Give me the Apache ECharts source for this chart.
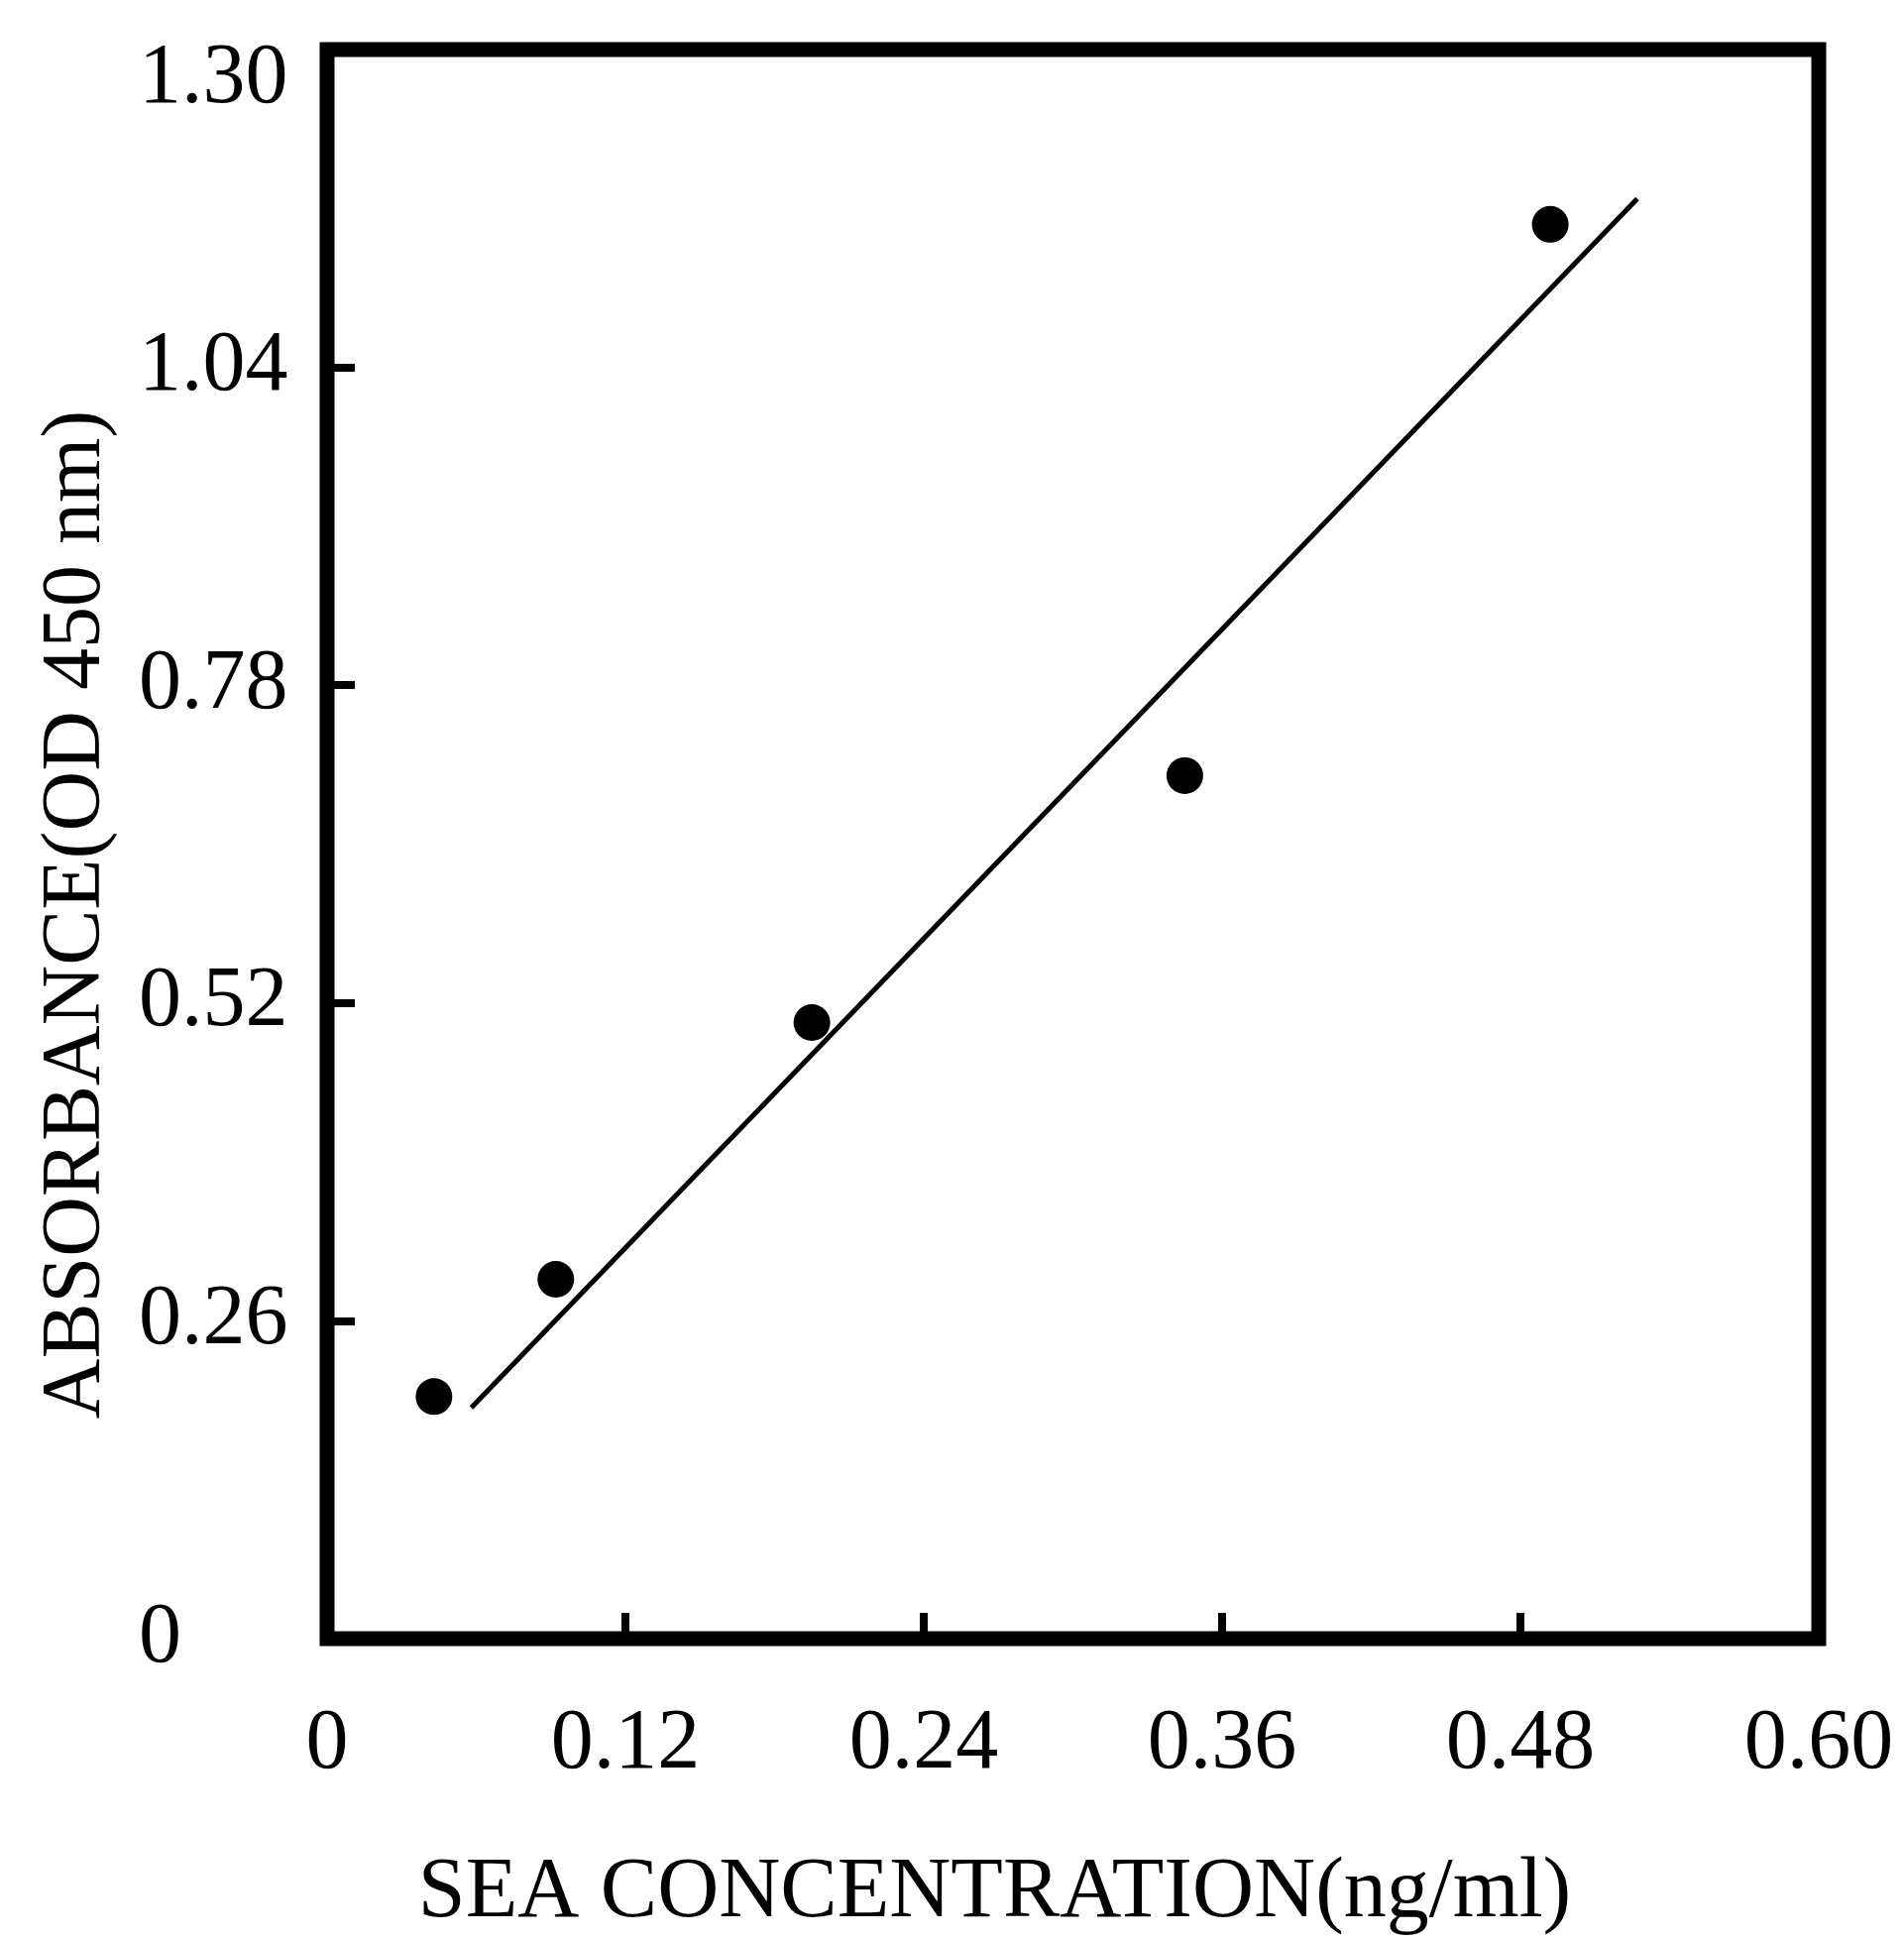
<!DOCTYPE html>
<html>
<head>
<meta charset="utf-8">
<script src="https://cdn.jsdelivr.net/npm/echarts@6/dist/echarts.min.js"></script>
<style>
html,body{margin:0;padding:0;background:#fff;}
#chart{width:1921px;height:1958px;}
</style>
</head>
<body>
<div id="chart"></div>
<script>
// Measured points: SEA concentration (ng/ml) vs absorbance (OD 450 nm)
const concentration = [0.043, 0.092, 0.195, 0.345, 0.492];
const absorbance = [0.198, 0.294, 0.504, 0.706, 1.157];
// Fitted straight line end points
const fitX = [0.058, 0.527];
const fitY = [0.189, 1.178];
// Tick labels
const xTickLabels = ['0', '0.12', '0.24', '0.36', '0.48', '0.60'];
const yTickLabels = ['0', '0.26', '0.52', '0.78', '1.04', '1.30'];
const xTitle = 'SEA CONCENTRATION(ng/ml)';
const yTitle = 'ABSORBANCE(OD 450 nm)';

const FONT = '"Liberation Serif", "Times New Roman", serif';
const chart = echarts.init(document.getElementById('chart'), null, {renderer: 'canvas'});

chart.setOption({
  backgroundColor: '#ffffff',
  animation: false,
  grid: {
    left: 330, right: 86, top: 50, bottom: 301,
    show: true, borderColor: '#000', borderWidth: 15, backgroundColor: 'transparent'
  },
  xAxis: {
    type: 'value', min: 0, max: 0.6, interval: 0.12,
    name: xTitle, nameLocation: 'middle', nameGap: 214,
    nameTextStyle: {fontFamily: FONT, fontSize: 86, color: '#000', padding: [0, 158, 0, 0]},
    axisLine: {show: false},
    axisTick: {show: true, inside: true, length: 26, lineStyle: {color: '#000', width: 8}},
    splitLine: {show: false},
    axisLabel: {
      margin: 64, fontFamily: FONT, fontSize: 86, color: '#000',
      formatter: v => xTickLabels[Math.round(v / 0.12)]
    }
  },
  yAxis: {
    type: 'value', min: 0, max: 1.3, interval: 0.26,
    name: yTitle, nameLocation: 'middle', nameGap: 210,
    nameTextStyle: {fontFamily: FONT, fontSize: 84, color: '#000', padding: [0, 142, 0, 0]},
    axisLine: {show: false},
    axisTick: {show: true, inside: true, length: 28, lineStyle: {color: '#000', width: 8}},
    splitLine: {show: false},
    axisLabel: {
      margin: 190, align: 'left', fontFamily: FONT, fontSize: 86, color: '#000',
      formatter: v => {
        const i = Math.round(v / 0.26);
        return i === yTickLabels.length - 1 ? '{t|' + yTickLabels[i] + '}' : yTickLabels[i];
      },
      rich: {
        t: {fontFamily: FONT, fontSize: 86, color: '#000', padding: [60, 0, 0, 0]}
      }
    }
  },
  series: [
    {
      type: 'line',
      data: fitX.map((x, i) => [x, fitY[i]]),
      showSymbol: false,
      lineStyle: {color: '#000', width: 5},
      z: 2
    },
    {
      type: 'scatter',
      data: concentration.map((x, i) => [x, absorbance[i]]),
      symbol: 'circle', symbolSize: 37,
      itemStyle: {color: '#000', opacity: 1},
      z: 3
    }
  ]
});
</script>
</body>
</html>
